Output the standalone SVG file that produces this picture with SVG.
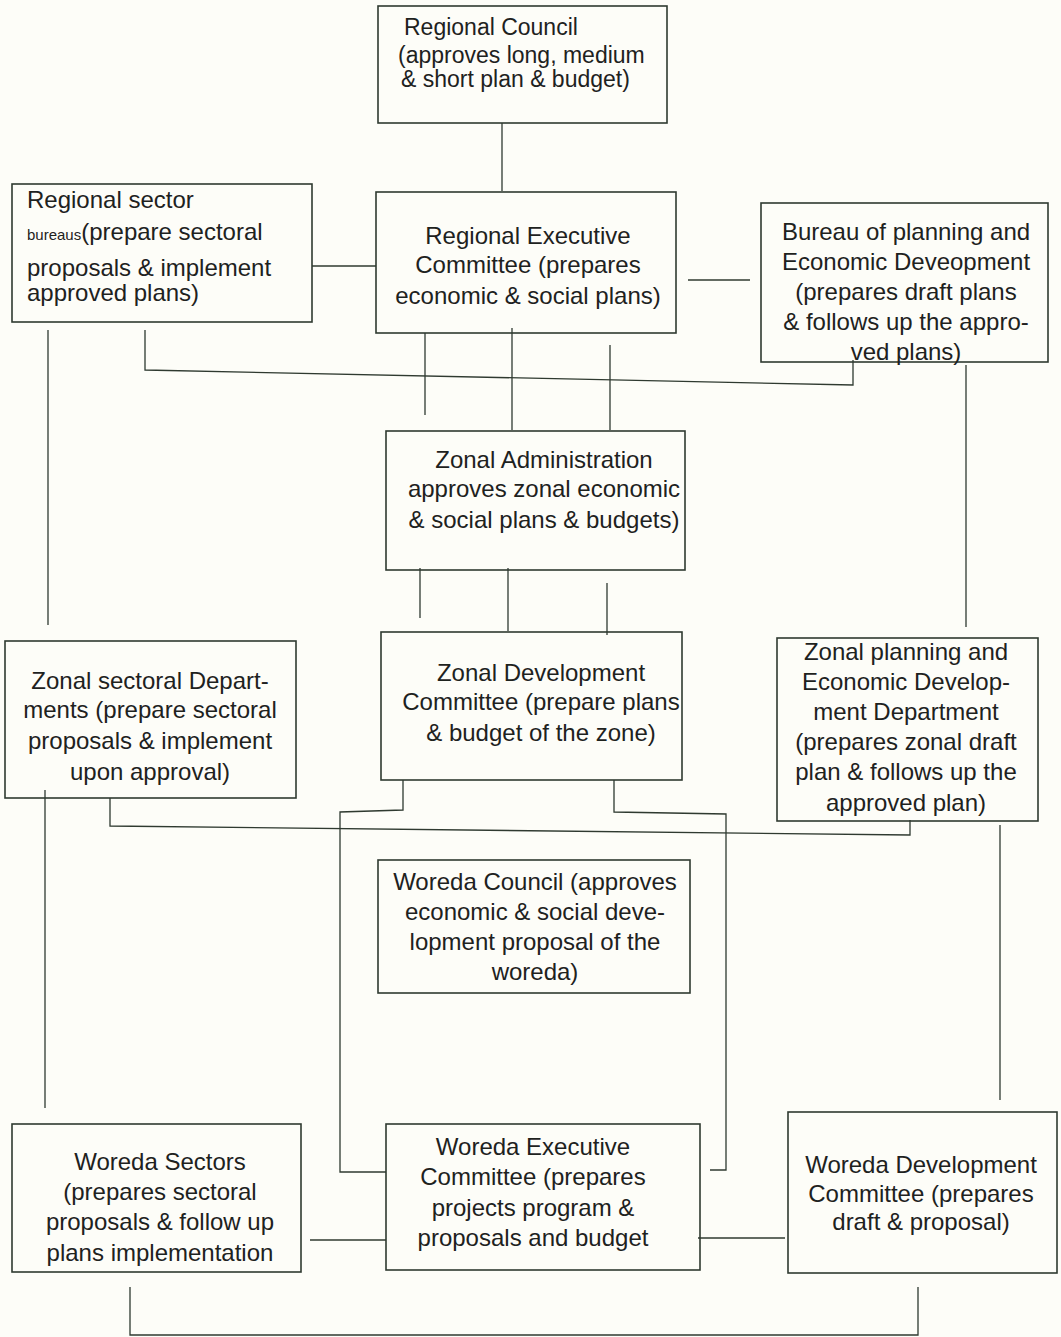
<svg xmlns="http://www.w3.org/2000/svg" width="1061" height="1337" viewBox="0 0 1061 1337">
<style>
.bg{fill:#fdfdf8}
.box{fill:none;stroke:#2f3a30;stroke-width:1.6}
.ln{fill:none;stroke:#2f3a30;stroke-width:1.3}
text{font-family:"Liberation Sans Narrow","Liberation Sans",Arial,sans-serif;font-size:24px;fill:#1e221e}
.c{text-anchor:middle}
.sm{font-size:15px}
.t23{font-size:23px}
</style>
<rect class="bg" x="0" y="0" width="1061" height="1337"/>
<g id="connectors">
<path class="ln" d="M502 123V191"/>
<path class="ln" d="M312 266H376"/>
<path class="ln" d="M688 280H750"/>
<path class="ln" d="M145 330V370L853 385V360"/>
<path class="ln" d="M425 333V415"/>
<path class="ln" d="M512 328V430"/>
<path class="ln" d="M610 345V430"/>
<path class="ln" d="M48 330V625"/>
<path class="ln" d="M966 365V627"/>
<path class="ln" d="M420 568V618"/>
<path class="ln" d="M508 568V631"/>
<path class="ln" d="M607 583V635"/>
<path class="ln" d="M45 790V1108"/>
<path class="ln" d="M110 798V826L910 835V820"/>
<path class="ln" d="M403 780V810L340 812V1172H386"/>
<path class="ln" d="M614 780V812L726 814V1170H710"/>
<path class="ln" d="M1000 825V1100"/>
<path class="ln" d="M310 1240H386"/>
<path class="ln" d="M698 1238H785"/>
<path class="ln" d="M130 1287V1335H918V1287"/>
</g>
<g id="regional-council">
<rect class="box" x="378" y="6" width="289" height="117"/>
<text class="t23" x="404" y="35">Regional Council</text>
<text class="t23" x="398" y="63">(approves long, medium</text>
<text class="t23" x="401" y="87">&amp; short plan &amp; budget)</text>
</g>
<g id="regional-sector-bureaus">
<rect class="box" x="12" y="184" width="300" height="138"/>
<text x="27" y="208">Regional sector</text>
<text x="27" y="240"><tspan class="sm">bureaus</tspan>(prepare sectoral</text>
<text x="27" y="276">proposals &amp; implement</text>
<text x="27" y="301">approved plans)</text>
</g>
<g id="regional-executive-committee">
<rect class="box" x="376" y="192" width="300" height="141"/>
<text class="c" x="528" y="244">Regional Executive</text>
<text class="c" x="528" y="273">Committee (prepares</text>
<text class="c" x="528" y="304">economic &amp; social plans)</text>
</g>
<g id="bureau-of-planning">
<rect class="box" x="761" y="203" width="287" height="159"/>
<text class="c" x="906" y="240">Bureau of planning and</text>
<text class="c" x="906" y="270">Economic Deveopment</text>
<text class="c" x="906" y="300">(prepares draft plans</text>
<text class="c" x="906" y="330">&amp; follows up the appro-</text>
<text class="c" x="906" y="360">ved plans)</text>
</g>
<g id="zonal-administration">
<rect class="box" x="386" y="431" width="299" height="139"/>
<text class="c" x="544" y="468">Zonal Administration</text>
<text class="c" x="544" y="497">approves zonal economic</text>
<text class="c" x="544" y="528">&amp; social plans &amp; budgets)</text>
</g>
<g id="zonal-sectoral-departments">
<rect class="box" x="5" y="641" width="291" height="157"/>
<text class="c" x="150" y="689">Zonal sectoral Depart-</text>
<text class="c" x="150" y="718">ments (prepare sectoral</text>
<text class="c" x="150" y="749">proposals &amp; implement</text>
<text class="c" x="150" y="780">upon approval)</text>
</g>
<g id="zonal-development-committee">
<rect class="box" x="381" y="632" width="301" height="148"/>
<text class="c" x="541" y="681">Zonal Development</text>
<text class="c" x="541" y="710">Committee (prepare plans</text>
<text class="c" x="541" y="741">&amp; budget of the zone)</text>
</g>
<g id="zonal-planning">
<rect class="box" x="777" y="638" width="261" height="183"/>
<text class="c" x="906" y="660">Zonal planning and</text>
<text class="c" x="906" y="690">Economic Develop-</text>
<text class="c" x="906" y="720">ment Department</text>
<text class="c" x="906" y="750">(prepares zonal draft</text>
<text class="c" x="906" y="780">plan &amp; follows up the</text>
<text class="c" x="906" y="811">approved plan)</text>
</g>
<g id="woreda-council">
<rect class="box" x="378" y="860" width="312" height="133"/>
<text class="c" x="535" y="890">Woreda Council (approves</text>
<text class="c" x="535" y="920">economic &amp; social deve-</text>
<text class="c" x="535" y="950">lopment proposal of the</text>
<text class="c" x="535" y="980">woreda)</text>
</g>
<g id="woreda-sectors">
<rect class="box" x="12" y="1124" width="289" height="148"/>
<text class="c" x="160" y="1170">Woreda Sectors</text>
<text class="c" x="160" y="1200">(prepares sectoral</text>
<text class="c" x="160" y="1230">proposals &amp; follow up</text>
<text class="c" x="160" y="1261">plans implementation</text>
</g>
<g id="woreda-executive-committee">
<rect class="box" x="386" y="1124" width="314" height="146"/>
<text class="c" x="533" y="1155">Woreda Executive</text>
<text class="c" x="533" y="1185">Committee (prepares</text>
<text class="c" x="533" y="1216">projects program &amp;</text>
<text class="c" x="533" y="1246">proposals and budget</text>
</g>
<g id="woreda-development-committee">
<rect class="box" x="788" y="1112" width="269" height="161"/>
<text class="c" x="921" y="1173">Woreda Development</text>
<text class="c" x="921" y="1202">Committee (prepares</text>
<text class="c" x="921" y="1230">draft &amp; proposal)</text>
</g>
</svg>
